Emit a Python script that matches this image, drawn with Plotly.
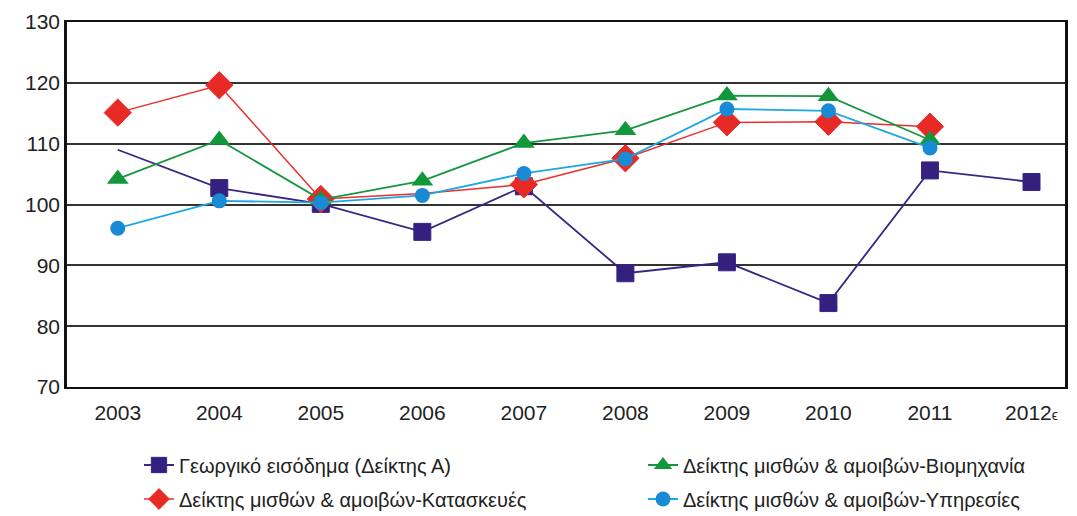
import plotly.graph_objects as go

years = ["2003", "2004", "2005", "2006", "2007", "2008", "2009", "2010", "2011",
         "2012<span style='font-size:14px'>ϵ</span>"]

agri = [109.0, 102.7, 100.1, 95.5, 103.0, 88.7, 90.5, 83.8, 105.6, 103.7]
constr = [115.1, 119.6, 100.9, 101.8, 103.3, 107.6, 113.5, 113.6, 112.8, None]
industry = [104.2, 110.6, 100.8, 103.9, 110.1, 112.2, 117.9, 117.8, 110.6, None]
services = [96.1, 100.6, 100.3, 101.5, 105.1, 107.5, 115.7, 115.4, 109.3, None]

names = ["Γεωργικό εισόδημα (Δείκτης Α)",
         "Δείκτης μισθών & αμοιβών-Κατασκευές",
         "Δείκτης μισθών & αμοιβών-Βιομηχανία",
         "Δείκτης μισθών & αμοιβών-Υπηρεσίες"]

fig = go.Figure()

# purple: no marker on the first point
fig.add_trace(go.Scatter(
    x=years, y=agri, name=names[0], mode="lines+markers", legend="legend",
    showlegend=True, line=dict(color="#3a2585", width=1.8),
    marker=dict(symbol="square", color="#33207f", opacity=1,
                size=[0] + [17] * 9)))
# red: the 2006 point has no marker in the original
fig.add_trace(go.Scatter(
    x=years, y=constr, name=names[1], mode="lines+markers", legend="legend2",
    showlegend=True, line=dict(color="#e8302c", width=1.5),
    marker=dict(symbol="diamond", color="#e82a26", opacity=1,
                size=[21, 21, 21, 0, 21, 21, 21, 21, 21, 21])))
fig.add_trace(go.Scatter(
    x=years, y=industry, name=names[2], mode="lines+markers", legend="legend3",
    showlegend=True, line=dict(color="#16963f", width=1.8),
    marker=dict(symbol="triangle-up", color="#12973b", size=19)))
fig.add_trace(go.Scatter(
    x=years, y=services, name=names[3], mode="lines+markers", legend="legend4",
    showlegend=True, line=dict(color="#1da8e2", width=1.8),
    marker=dict(symbol="circle", color="#1a8ad4", size=15)))

W, H = 1069, 508  # page body adds an 8px offset


def leg(x, y):
    # one legend per entry, placed like the 2x2 key of the original
    return dict(orientation="h", xref="container", yref="container",
                x=x / W, y=1 - y / H, xanchor="left", yanchor="middle",
                font=dict(size=20, color="#222"), bgcolor="rgba(0,0,0,0)")


fig.update_layout(
    width=W, height=H, showlegend=True,
    margin=dict(l=59, r=12, t=12, b=129),
    plot_bgcolor="white", paper_bgcolor="white",
    font=dict(family="Liberation Sans, Arial", size=21, color="#222"),
    legend=leg(131, 457),
    legend2=leg(131, 491),
    legend3=leg(635, 457),
    legend4=leg(635, 491),
    xaxis=dict(type="category", range=[-0.5, 9.33], showgrid=False,
               showline=True, linecolor="#111", linewidth=2, mirror=True,
               ticks="", ticklabelstandoff=6, tickfont=dict(size=21)),
    yaxis=dict(range=[70, 130], dtick=10, showgrid=True, gridcolor="#333",
               gridwidth=1.8, zeroline=False, showline=True, linecolor="#111",
               linewidth=2.5, mirror=True, ticks="", automargin=False,
               tickfont=dict(size=21)),
)

fig.write_html("out.html")
